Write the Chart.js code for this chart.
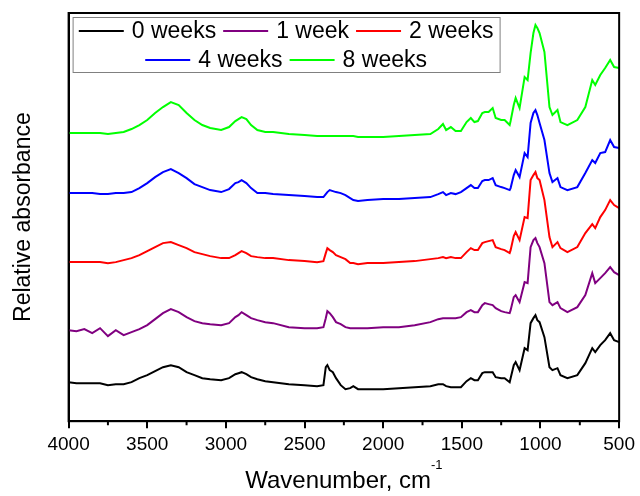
<!DOCTYPE html>
<html>
<head>
<meta charset="utf-8">
<script src="https://cdn.jsdelivr.net/npm/chart.js@4.4.1/dist/chart.umd.min.js"></script>
<style>
  body { margin: 0; background: #fff; }
  #wrap { width: 640px; height: 496px; }
</style>
</head>
<body>
<div id="wrap"><canvas id="ftirChart" width="640" height="496"></canvas></div>
<script>
// wavenumbers (cm-1), shared by all spectra
const wavenumbers = [4000, 3950, 3900, 3850, 3800, 3750, 3700, 3650, 3600, 3550,
  3500, 3450, 3400, 3350, 3300, 3250, 3200, 3150, 3100, 3030,
  2980, 2940, 2920, 2900, 2870, 2840, 2800, 2750, 2700, 2600,
  2500, 2420, 2380, 2365, 2355, 2340, 2320, 2300, 2270, 2240,
  2210, 2190, 2160, 2100, 2000, 1900, 1800, 1700, 1650, 1620,
  1600, 1570, 1540, 1506, 1470, 1443, 1420, 1398, 1370, 1354,
  1330, 1304, 1285, 1250, 1228, 1196, 1190, 1170, 1158, 1133,
  1101, 1082, 1063, 1045, 1032, 1020, 1006, 975, 943, 924,
  892, 873, 829, 766, 715, 671, 652, 620, 589, 557,
  532, 500];

// relative absorbance (arbitrary units, already stacked)
const week0 = [39, 38, 38, 38, 38, 36, 37, 37, 39, 43,
  46, 50, 54, 56, 54, 49, 46, 43, 42, 41,
  43, 47, 48, 49, 47, 44, 42, 40, 39, 37,
  36, 35, 36, 54, 56, 51, 49, 43, 36, 32,
  33, 35, 32, 32, 32, 33, 34, 35, 37, 37,
  35, 34, 34, 34, 40, 43, 41, 41, 48, 49,
  49, 49, 44, 43, 43, 39, 43, 56, 59, 51,
  73, 71, 98, 103, 106, 101, 99, 84, 54, 51,
  53, 46, 43, 46, 58, 73, 69, 76, 81, 88,
  81, 79];

const week1 = [91, 90, 92, 88, 93, 85, 91, 86, 89, 92,
  96, 102, 108, 112, 109, 104, 100, 98, 97, 96,
  98, 104, 106, 109, 106, 103, 101, 99, 98, 94,
  93, 93, 94, 103, 110, 108, 104, 99, 97, 94,
  93, 93, 93, 93, 94, 94, 96, 99, 102, 103,
  103, 103, 103, 104, 109, 111, 109, 109, 116, 118,
  117, 116, 113, 110, 109, 108, 111, 124, 126, 119,
  139, 138, 174, 181, 183, 178, 174, 158, 119, 116,
  119, 113, 109, 114, 126, 148, 138, 143, 148, 154,
  149, 146];

const week2 = [159, 159, 159, 159, 159, 158, 159, 161, 163, 166,
  170, 174, 178, 179, 176, 173, 169, 167, 165, 163,
  163, 166, 168, 170, 168, 165, 164, 163, 163, 161,
  160, 159, 160, 168, 173, 171, 169, 166, 164, 162,
  158, 158, 157, 158, 158, 159, 160, 162, 163, 164,
  163, 164, 163, 163, 169, 173, 171, 171, 178, 179,
  180, 181, 174, 172, 171, 168, 171, 185, 189, 181,
  204, 203, 241, 246, 249, 243, 241, 221, 184, 174,
  179, 173, 169, 174, 188, 197, 193, 204, 211, 221,
  216, 213];

const week4 = [228, 228, 228, 228, 227, 227, 228, 228, 229, 233,
  238, 244, 249, 252, 248, 243, 237, 234, 231, 229,
  232, 238, 239, 241, 238, 233, 228, 228, 227, 226,
  225, 224, 224, 227, 229, 231, 230, 229, 228, 226,
  223, 221, 220, 221, 222, 222, 223, 224, 227, 229,
  226, 228, 227, 229, 233, 236, 233, 233, 240, 241,
  241, 243, 236, 234, 233, 231, 233, 246, 251, 244,
  268, 264, 298, 308, 311, 306, 298, 281, 248, 239,
  243, 234, 231, 234, 248, 261, 258, 268, 269, 281,
  274, 273];

const week8 = [288, 288, 288, 288, 288, 287, 288, 289, 292, 296,
  301, 308, 314, 319, 316, 308, 301, 296, 293, 291,
  294, 300, 302, 304, 302, 296, 291, 289, 289, 287,
  286, 285, 285, 285, 285, 285, 285, 285, 285, 285,
  285, 285, 284, 284, 284, 285, 286, 287, 292, 297,
  291, 294, 290, 290, 299, 303, 299, 300, 308, 309,
  309, 313, 303, 301, 301, 296, 300, 316, 323, 313,
  344, 341, 368, 388, 396, 393, 388, 369, 314, 306,
  311, 299, 296, 301, 314, 341, 336, 346, 353, 361,
  354, 353];

const seriesNames = ['0 weeks', '1 week', '2 weeks', '4 weeks', '8 weeks'];
const seriesColors = ['#000000', '#800080', '#ff0000', '#0000ff', '#00ff00'];
const seriesValues = [week0, week1, week2, week4, week8];
const xTicks = [4000, 3500, 3000, 2500, 2000, 1500, 1000, 500];
const minorTicks = [3750, 3250, 2750, 2250, 1750, 1250, 750];

const FONT = "'Liberation Sans', Arial, Helvetica, sans-serif";
Chart.defaults.font.family = FONT;
Chart.defaults.color = '#000';

// box around the plot, minor ticks, legend and x title
const framePlugin = {
    id: 'frame',
    afterDraw(chart) {
        const ctx = chart.ctx;
        const a = chart.chartArea;
        const xs = chart.scales.x;
        ctx.save();

        ctx.strokeStyle = '#000';
        ctx.lineWidth = 2;
        ctx.strokeRect(a.left, a.top, a.right - a.left, a.bottom - a.top);

        // minor ticks
        ctx.beginPath();
        minorTicks.forEach(v => {
            const px = xs.getPixelForValue(v);
            ctx.moveTo(px, a.bottom);
            ctx.lineTo(px, a.bottom + 4);
        });
        ctx.stroke();

        // legend
        const boxL = a.left + 4, boxT = a.top + 4, boxW = 427, boxH = 55;
        ctx.strokeStyle = '#808080';
        ctx.lineWidth = 1;
        ctx.strokeRect(boxL + 0.5, boxT + 0.5, boxW, boxH);
        ctx.font = '23px ' + FONT;
        ctx.textBaseline = 'middle';
        ctx.textAlign = 'left';
        const lineLen = 45, gapText = 8, gapItem = 7;
        const rows = [[0, 1, 2], [3, 4]];
        const rowY = [boxT + 14, boxT + 43];
        rows.forEach((row, ri) => {
            const widths = row.map(i => lineLen + gapText + ctx.measureText(seriesNames[i]).width);
            const total = widths.reduce((s, w) => s + w, 0) + gapItem * (row.length - 1);
            let x = boxL + (boxW - total) / 2;
            row.forEach((i, k) => {
                ctx.strokeStyle = seriesColors[i];
                ctx.lineWidth = 2;
                ctx.beginPath();
                ctx.moveTo(x, rowY[ri]);
                ctx.lineTo(x + lineLen, rowY[ri]);
                ctx.stroke();
                ctx.fillStyle = '#000';
                ctx.fillText(seriesNames[i], x + lineLen + gapText, rowY[ri] + 1);
                x += widths[k] + gapItem;
            });
        });

        // x axis title with superscript
        const main = 'Wavenumber, cm';
        const sup = '-1';
        ctx.font = '24px ' + FONT;
        const w1 = ctx.measureText(main).width;
        ctx.font = '13px ' + FONT;
        const w2 = ctx.measureText(sup).width;
        const cx = (a.left + a.right) / 2;
        const x0 = cx - (w1 + w2) / 2;
        ctx.textBaseline = 'alphabetic';
        ctx.fillStyle = '#000';
        ctx.font = '24px ' + FONT;
        ctx.fillText(main, x0, 488);
        ctx.font = '13px ' + FONT;
        ctx.fillText(sup, x0 + w1, 469);

        ctx.restore();
    }
};

const datasets = seriesNames.map((name, i) => ({
    label: name,
    data: wavenumbers.map((w, j) => ({ x: w, y: seriesValues[i][j] })),
    borderColor: seriesColors[i],
    backgroundColor: seriesColors[i],
    borderWidth: 2,
    pointRadius: 0,
    tension: 0,
    fill: false
}));

new Chart(document.getElementById('ftirChart').getContext('2d'), {
    type: 'line',
    data: { datasets: datasets },
    options: {
        responsive: false,
        animation: false,
        layout: { padding: { left: 7, right: 16, top: 13, bottom: 35 } },
        plugins: {
            legend: { display: false },
            tooltip: { enabled: false }
        },
        scales: {
            x: {
                type: 'linear',
                reverse: true,
                min: 500,
                max: 4000,
                afterBuildTicks: (scale) => {
                    scale.ticks = xTicks.map(v => ({ value: v }));
                },
                ticks: {
                    font: { size: 19 },
                    padding: 5,
                    maxRotation: 0,
                    autoSkip: false,
                    callback: (value) => String(value)
                },
                grid: {
                    display: true,
                    drawOnChartArea: false,
                    drawTicks: true,
                    tickLength: 7,
                    tickWidth: 2,
                    tickColor: '#000',
                    color: '#000',
                    lineWidth: 2
                },
                border: { display: true, color: '#000', width: 2 }
            },
            y: {
                min: 0,
                max: 408,
                ticks: { display: false },
                grid: { display: false, drawTicks: false },
                border: { display: true, color: '#000', width: 2 },
                title: {
                    display: true,
                    text: 'Relative absorbance',
                    font: { size: 23 },
                    padding: { top: 3, bottom: 31 }
                }
            }
        }
    },
    plugins: [framePlugin]
});
</script>
</body>
</html>
